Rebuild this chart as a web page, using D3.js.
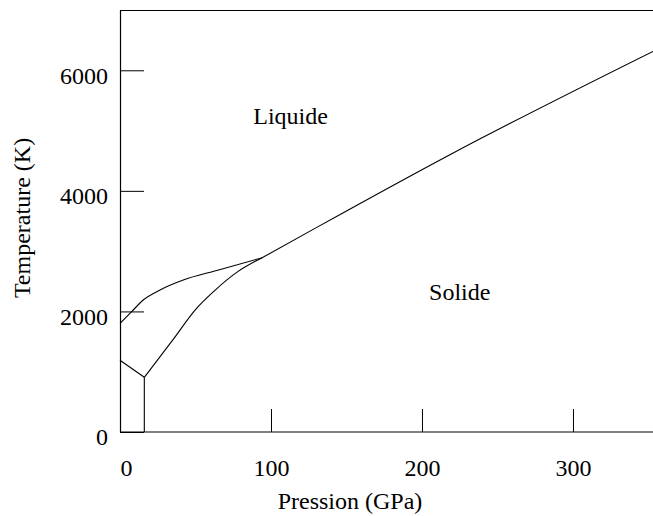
<!DOCTYPE html>
<html>
<head>
<meta charset="utf-8">
<script src="https://cdn.jsdelivr.net/npm/d3@7"></script>
<style>
  body { margin: 0; background: #fff; }
  svg { display: block; }
</style>
</head>
<body>
<div id="chart-area"></div>
<script>
// phase diagram: melting curve + solid-solid boundaries
var xTicks = [0, 100, 200, 300];
var yTicks = [0, 2000, 4000, 6000];

// melting curve, low pressure part (up to triple point)
var meltLowP = [0, 7.7, 15.4, 26.5, 41.9, 64.1, 94.2];
var meltLowT = [1800, 1996, 2190, 2356, 2521, 2680, 2891];

// melting curve, high pressure part
var meltHighP = [94.2, 130, 218.5, 353];
var meltHighT = [2891, 3390, 4600, 6313];

// solid-solid boundary to the triple point
var solidP = [16.1, 35, 50, 62, 78, 94.2];
var solidT = [907, 1527, 2030, 2330, 2660, 2891];

// short boundary from the T axis
var leftP = [0, 16.1];
var leftT = [1190, 907];

// vertical boundary
var vertP = [16.1, 16.1];
var vertT = [0, 907];

var regionNames = ["Liquide", "Solide"];
var regionP = [113, 225];
var regionT = [5110, 2190];

var margin = { left: 120, right: 0, top: 10, bottom: 84 };
var width = 653 - margin.left - margin.right,
    height = 516 - margin.top - margin.bottom;

var svg = d3.select("#chart-area")
    .append("svg")
        .attr("width", 653)
        .attr("height", 516);

var g = svg.append("g")
    .attr("transform", "translate(" + margin.left + "," + margin.top + ")");

var x = d3.scaleLinear().domain([0, 353]).range([0, width]);
var y = d3.scaleLinear().domain([0, 7000]).range([height, 0]);

var font = "'Liberation Serif', 'Times New Roman', serif";

// X Axis (ticks inward)
var xAxis = g.append("g")
    .attr("transform", "translate(0," + height + ")")
    .call(d3.axisBottom(x).tickValues(xTicks).tickSize(-23).tickPadding(27)
        .tickFormat(d3.format("d")));
xAxis.select(".domain").remove();
xAxis.selectAll("line").attr("stroke", "#000");
xAxis.selectAll("text")
    .attr("font-family", font)
    .attr("font-size", "24px")
    .attr("fill", "#000")
    .attr("text-anchor", function(d) { return d === 0 ? "start" : "middle"; });

// Y Axis (ticks inward)
var yAxis = g.append("g")
    .call(d3.axisLeft(y).tickValues(yTicks).tickSize(-24).tickPadding(12)
        .tickFormat(d3.format("d")));
yAxis.select(".domain").remove();
yAxis.selectAll("line").attr("stroke", "#000");
yAxis.selectAll("text")
    .attr("font-family", font)
    .attr("font-size", "24px")
    .attr("fill", "#000")
    .attr("dy", "0.53em");

// frame: left, top, bottom
g.append("path")
    .attr("d", "M" + width + ",0.5H0.5V" + height + "H" + width)
    .attr("fill", "none")
    .attr("stroke", "#000")
    .attr("stroke-width", 1.2);

function pts(P, T) {
    return P.map(function(p, i) { return [p, T[i]]; });
}

var smooth = d3.line()
    .x(function(d) { return x(d[0]); })
    .y(function(d) { return y(d[1]); })
    .curve(d3.curveMonotoneX);

var straight = d3.line()
    .x(function(d) { return x(d[0]); })
    .y(function(d) { return y(d[1]); });

var curves = [
    { d: pts(meltLowP, meltLowT), gen: smooth },
    { d: pts(meltHighP, meltHighT), gen: smooth },
    { d: pts(solidP, solidT), gen: smooth },
    { d: pts(leftP, leftT), gen: straight },
    { d: pts(vertP, vertT), gen: straight }
];

g.selectAll(".curve")
    .data(curves)
    .enter()
    .append("path")
        .attr("class", "curve")
        .attr("d", function(c) { return c.gen(c.d); })
        .attr("fill", "none")
        .attr("stroke", "#000")
        .attr("stroke-width", 1.1);

// region labels
g.selectAll(".region")
    .data(regionNames)
    .enter()
    .append("text")
        .attr("class", "region")
        .attr("x", function(d, i) { return x(regionP[i]); })
        .attr("y", function(d, i) { return y(regionT[i]); })
        .attr("text-anchor", "middle")
        .attr("font-family", font)
        .attr("font-size", "24px")
        .text(function(d) { return d; });

// X Label
svg.append("text")
    .attr("x", 350)
    .attr("y", 509)
    .attr("text-anchor", "middle")
    .attr("font-family", font)
    .attr("font-size", "24px")
    .text("Pression (GPa)");

// Y Label
svg.append("text")
    .attr("x", -218)
    .attr("y", 29.5)
    .attr("text-anchor", "middle")
    .attr("transform", "rotate(-90)")
    .attr("font-family", font)
    .attr("font-size", "24px")
    .text("Temperature (K)");
</script>
</body>
</html>
